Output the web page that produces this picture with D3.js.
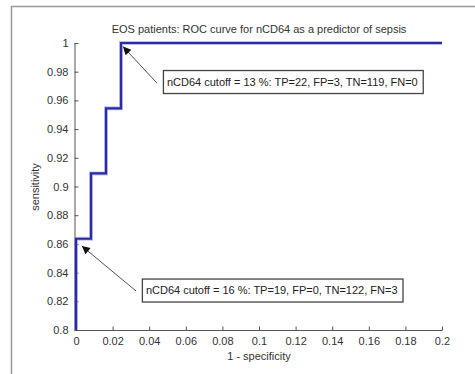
<!DOCTYPE html>
<html>

<head>
    <meta charset="utf-8">
    <style>
        body {
            margin: 0;
            background: white;
        }

        svg {
            font-family: 'Liberation Sans', Arial, sans-serif;
        }

        .tick text {
            font-size: 11px;
            fill: #333;
        }
    </style>
</head>

<body>
    <svg width="475" height="374"></svg>
</body>

<script src="https://d3js.org/d3.v7.min.js"></script>

<script>
    // ROC steps, 1 - specificity vs sensitivity
    let fpr = [0, 0, 0.0082, 0.0082, 0.0164, 0.0164, 0.0246, 0.0246, 0.2];
    let tpr = [0.8, 0.8636, 0.8636, 0.9091, 0.9091, 0.9545, 0.9545, 1, 1];

    let xTicks = [0, 0.02, 0.04, 0.06, 0.08, 0.1, 0.12, 0.14, 0.16, 0.18, 0.2];
    let yTicks = [0.8, 0.82, 0.84, 0.86, 0.88, 0.9, 0.92, 0.94, 0.96, 0.98, 1];

    // annotations: text, box left / centre in data units, arrow tail and tip
    let noteText = [
        "nCD64 cutoff = 13 %: TP=22, FP=3, TN=119, FN=0",
        "nCD64 cutoff = 16 %: TP=19, FP=0, TN=122, FN=3"
    ];
    let noteBoxX = [0.0475, 0.036];
    let noteBoxY = [0.9728, 0.8275];
    let arrowFrom = [[0.0443, 0.972], [0.0328, 0.8272]];
    let arrowTo = [[0.0257, 0.9975], [0.0032, 0.8585]];

    let svg = d3.select("svg");

    let mLeft = 76, mRight = 442, mTop = 43, mBottom = 330;

    let x = d3.scaleLinear().domain([0, 0.2]).range([mLeft, mRight]);
    let y = d3.scaleLinear().domain([0.8, 1]).range([mBottom, mTop]);

    // figure frame (cropped screenshot: only left and top edges)
    svg.append("path")
        .attr("d", "M11.5,374V6.5H475")
        .attr("fill", "none")
        .attr("stroke", "#999")
        .attr("stroke-width", 1.5);

    let fmt = d => d === 0 ? "0" : String(+d.toFixed(2));

    let yAxis = svg.append("g")
        .attr("transform", "translate(" + (mLeft - 1.5) + ",0)")
        .call(d3.axisLeft(y).tickValues(yTicks).tickSize(-4).tickPadding(6).tickFormat(fmt));

    let xAxis = svg.append("g")
        .attr("transform", "translate(0," + (mBottom + 0.5) + ")")
        .call(d3.axisBottom(x).tickValues(xTicks).tickSize(-4).tickPadding(7).tickFormat(fmt));

    yAxis.select(".domain").attr("d", "M0.5," + mTop + "V" + mBottom).attr("stroke", "#555");
    xAxis.select(".domain").attr("d", "M" + (mLeft - 1.5) + ",0H" + mRight).attr("stroke", "#555");
    svg.selectAll(".tick line").attr("stroke", "#555");

    // curve
    let line = d3.line()
        .x((d, i) => x(fpr[i]))
        .y((d, i) => y(tpr[i]));

    svg.append("path")
        .datum(fpr)
        .attr("d", line)
        .attr("fill", "none")
        .attr("stroke", "#9a9ad8")
        .attr("stroke-width", 4)
        .attr("opacity", 0.6);

    svg.append("path")
        .datum(fpr)
        .attr("d", line)
        .attr("fill", "none")
        .attr("stroke", "#2a2aa8")
        .attr("stroke-width", 2.2);

    // arrows
    svg.append("defs").append("marker")
        .attr("id", "head")
        .attr("viewBox", "0 0 10 10")
        .attr("refX", 10)
        .attr("refY", 5)
        .attr("markerWidth", 12)
        .attr("markerHeight", 8)
        .attr("markerUnits", "userSpaceOnUse")
        .attr("orient", "auto")
        .append("path")
        .attr("d", "M0,0L10,5L0,10z")
        .attr("fill", "#111");

    arrowFrom.forEach((a, i) => {
        svg.append("line")
            .attr("x1", x(a[0]))
            .attr("y1", y(a[1]))
            .attr("x2", x(arrowTo[i][0]))
            .attr("y2", y(arrowTo[i][1]))
            .attr("stroke", "#555")
            .attr("stroke-width", 1)
            .attr("marker-end", "url(#head)");
    });

    // text boxes
    noteText.forEach((t, i) => {
        let g = svg.append("g");
        let txt = g.append("text")
            .attr("x", x(noteBoxX[i]) + 4)
            .attr("y", y(noteBoxY[i]))
            .attr("dy", "0.35em")
            .attr("font-size", 11)
            .attr("fill", "#222")
            .text(t);
        let w = txt.node().getComputedTextLength();
        g.insert("rect", "text")
            .attr("x", x(noteBoxX[i]) + 0.5)
            .attr("y", y(noteBoxY[i]) - 11.5)
            .attr("width", w + 9)
            .attr("height", 23)
            .attr("fill", "white")
            .attr("stroke", "#444")
            .attr("stroke-width", 1.3);
    });

    // titles
    svg.append("text")
        .attr("x", (mLeft + mRight) / 2)
        .attr("y", 33)
        .attr("text-anchor", "middle")
        .attr("font-size", 11)
        .attr("fill", "#333")
        .text("EOS patients: ROC curve for nCD64 as a predictor of sepsis");

    svg.append("text")
        .attr("x", (mLeft + mRight) / 2)
        .attr("y", 360)
        .attr("text-anchor", "middle")
        .attr("font-size", 11)
        .attr("fill", "#333")
        .text("1 - specificity");

    svg.append("text")
        .attr("transform", "translate(39,187) rotate(-90)")
        .attr("text-anchor", "middle")
        .attr("font-size", 11)
        .attr("fill", "#333")
        .text("sensitivity");
</script>

</html>
